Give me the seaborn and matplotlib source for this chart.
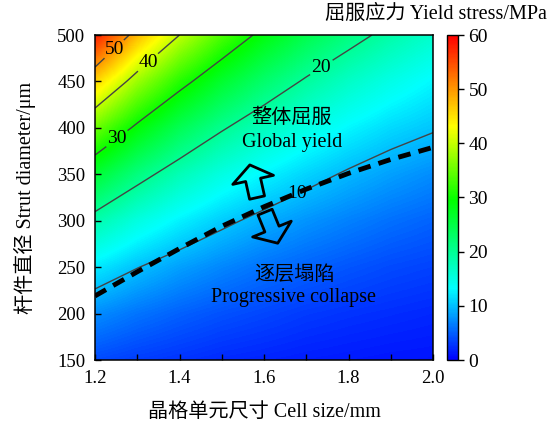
import numpy as np
import matplotlib.pyplot as plt
import seaborn as sns
from matplotlib.colors import LinearSegmentedColormap
from matplotlib.patches import FancyArrowPatch

# 晶格单元尺寸 (mm) 与 杆件直径 (um) 网格
cell_size = [1.2, 1.3, 1.4, 1.5, 1.6, 1.7, 1.8, 1.9, 2.0]
strut_diam = [150, 200, 250, 300, 350, 400, 450, 500]

# 屈服应力 (MPa)，行 = 杆件直径，列 = 晶格单元尺寸
yield_stress = [
    [3.9, 3.2, 2.7, 2.2, 1.9, 1.6, 1.4, 1.2, 1.1],
    [7.4, 6.1, 5.1, 4.3, 3.7, 3.1, 2.7, 2.4, 2.1],
    [12.3, 10.1, 8.4, 7.1, 6.0, 5.2, 4.5, 3.9, 3.5],
    [18.5, 15.2, 12.7, 10.7, 9.1, 7.8, 6.8, 5.9, 5.2],
    [26.2, 21.5, 17.9, 15.1, 12.9, 11.1, 9.6, 8.4, 7.4],
    [35.4, 29.1, 24.2, 20.4, 17.4, 15.0, 13.0, 11.4, 10.3],
    [46.2, 37.9, 31.5, 26.6, 22.7, 19.5, 16.9, 14.8, 13.0],
    [58.5, 48.0, 40.0, 33.7, 28.7, 24.7, 21.5, 18.8, 16.5],
]

# 整体屈服 / 逐层塌陷 分界线
boundary_x = [1.2, 1.3, 1.4, 1.5, 1.6, 1.7, 1.8, 1.9, 2.0]
boundary_y = [219, 245, 270, 294, 315, 334, 351, 366, 379]

contour_levels = [10, 20, 30, 40, 50]
label_pos = [(1.247, 484), (1.33, 468), (1.259, 384), (1.74, 462), (1.68, 328)]

sns.set_style('ticks')
plt.rcParams['font.family'] = ['Liberation Serif', 'Noto Sans CJK SC']
plt.rcParams['font.size'] = 13
plt.rcParams['axes.unicode_minus'] = False
for key in ['text.color', 'axes.labelcolor', 'xtick.color', 'ytick.color',
            'axes.edgecolor']:
    plt.rcParams[key] = 'black'

cmap = LinearSegmentedColormap.from_list(
    'origin_rainbow',
    [(0.0, '#0000ff'), (0.22, '#00ffff'), (0.49, '#00ff00'),
     (0.72, '#ffff00'), (1.0, '#ff0000')])

fig = plt.figure(figsize=(5.48, 4.23), dpi=100)
ax = fig.add_axes([95 / 548, 1 - 360 / 423, 338 / 548, 325 / 423])
cax = fig.add_axes([447 / 548, 1 - 360 / 423, 11 / 548, 325 / 423])

Z = np.array(yield_stress)
dx = (cell_size[1] - cell_size[0]) / 2
dy = (strut_diam[1] - strut_diam[0]) / 2
im = ax.imshow(Z, origin='lower', cmap=cmap, vmin=0, vmax=60, aspect='auto',
               interpolation='bilinear', interpolation_stage='data',
               extent=[cell_size[0] - dx, cell_size[-1] + dx,
                       strut_diam[0] - dy, strut_diam[-1] + dy])

cs = ax.contour(cell_size, strut_diam, Z, levels=contour_levels,
                colors='#444444', linewidths=1.0)
labels = ax.clabel(cs, fmt='%d', fontsize=14, colors='k', inline=True,
                   inline_spacing=2, manual=label_pos)
for t in labels:
    t.set_rotation(0)

sns.lineplot(x=boundary_x, y=boundary_y, ax=ax, color='k', lw=3.5,
             linestyle=(0, (2.6, 1.7)))

for tail, head in [((1.585, 322), (1.565, 363)), ((1.600, 312), (1.635, 273))]:
    arr = FancyArrowPatch(tail, head,
                          arrowstyle='simple,head_length=11,head_width=30,tail_width=11',
                          mutation_scale=1, fc='none', ec='k', lw=2)
    ax.add_patch(arr)

ax.text(1.666, 410, '整体屈服', ha='center', va='center', fontsize=14.5)
ax.text(1.666, 384, 'Global yield', ha='center', va='center', fontsize=14.5)
ax.text(1.671, 241, '逐层塌陷', ha='center', va='center', fontsize=14.5)
ax.text(1.671, 217, 'Progressive collapse', ha='center', va='center', fontsize=14.5)

ax.set_xlim(1.2, 2.0)
ax.set_ylim(150, 500)
ax.set_xticks([1.2, 1.4, 1.6, 1.8, 2.0])
ax.set_xticks([1.3, 1.5, 1.7, 1.9], minor=True)
ax.set_xticklabels(['1.2', '1.4', '1.6', '1.8', '2.0'])
ax.set_yticks([150, 200, 250, 300, 350, 400, 450, 500])
ax.tick_params(which='both', direction='in', length=4, width=1, labelsize=13.5,
               top=False, right=False, pad=7)
for s in ax.spines.values():
    s.set_linewidth(1.1)
    s.set_color('k')
ax.set_xlabel('晶格单元尺寸 Cell size/mm', fontsize=14.5, labelpad=12)
ax.set_ylabel('杆件直径 Strut diameter/μm', fontsize=14.5, labelpad=15)

cb = fig.colorbar(im, cax=cax, ticks=[0, 10, 20, 30, 40, 50, 60])
cb.outline.set_linewidth(1)
cb.outline.set_edgecolor('k')
cax.tick_params(direction='out', length=4, width=1, labelsize=14)
fig.text(436 / 548, 1 - 14 / 423, '屈服应力 Yield stress/MPa',
         ha='center', va='center', fontsize=14.5)

fig.savefig('out.png', dpi=100)
